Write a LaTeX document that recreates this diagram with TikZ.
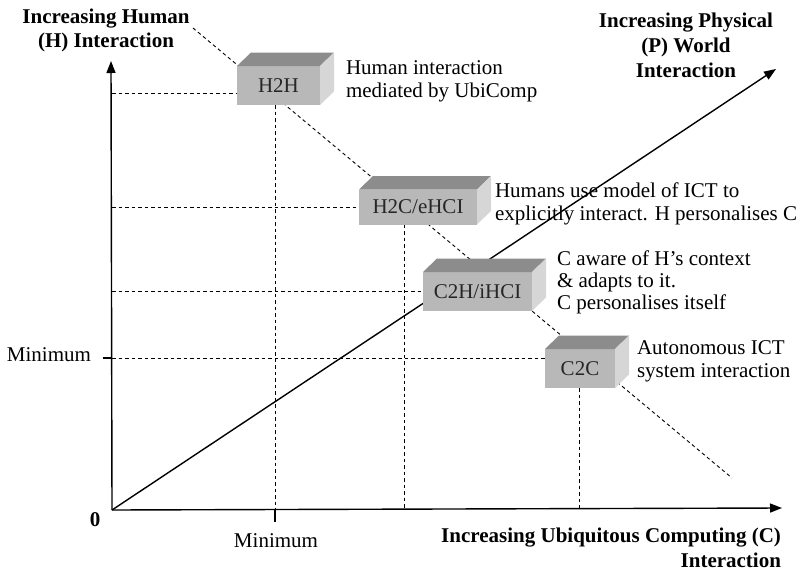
\documentclass[tikz,border=0pt]{standalone}
\usepackage{fontspec}
\setmainfont{Liberation Serif}
\usetikzlibrary{arrows.meta}

\definecolor{frontgrey}{gray}{0.72}
\definecolor{topgrey}{gray}{0.55}
\definecolor{sidegrey}{gray}{0.84}

\begin{document}
\begin{tikzpicture}[x=1pt,y=-1pt,
    every node/.style={font=\fontsize{21}{23}\selectfont, inner sep=0pt, outer sep=0pt},
    axis/.style={line width=1.4pt, -{Triangle[length=12pt,width=9pt]}},
    guide/.style={line width=0.9pt, dash pattern=on 3.5pt off 3pt},
    front/.style={fill=frontgrey, text=black!85, minimum width=#1},
    title/.style={font=\fontsize{21}{25}\selectfont\bfseries, align=center, anchor=base},
    note/.style={anchor=base west, align=left}]
    \useasboundingbox (0,0) rectangle (804,576);

    \coordinate (O) at (112,510);
    \coordinate (H) at (111,61);
    \coordinate (C) at (782,508);
    \coordinate (P) at (776,69);
    \coordinate (Cmin) at (275,509);
    \coordinate (Hmin) at (112,358);
    \coordinate (diagA) at (193,28);
    \coordinate (diagB) at (732,478);
    \coordinate (hhrow) at (112,93);
    \coordinate (hccol) at (404,509);
    \coordinate (cccol) at (579,509);

    % dashed diagonal and P axis run behind the boxes
    \draw[guide] (diagA) -- (diagB);
    \draw[axis] (O) -- (P);

    \node[front=83pt, minimum height=39pt] (hh) at (278.5,85.5) {H2H};
    \node[front=118pt, minimum height=35pt] (hc) at (418,207) {H2C/eHCI};
    \node[front=109pt, minimum height=39pt] (ch) at (477.5,291.5) {C2H/iHCI};
    \node[front=70pt, minimum height=39pt] (cc) at (580,368.5) {C2C};

    \foreach \b in {hh,hc,ch,cc}{
        \fill[topgrey] (\b.north west) -- ++(14,-13.5)
            -- ([shift={(14,-13.5)}]\b.north east) -- (\b.north east) -- cycle;
        \fill[sidegrey] (\b.north east) -- ++(14,-13.5)
            -- ([shift={(14,-13.5)}]\b.south east) -- (\b.south east) -- cycle;
    }

    % guides to the axes
    \draw[guide] (hhrow) -- (hh.west |- hhrow);
    \draw[guide] (O |- hc.west) -- (hc.west);
    \draw[guide] (O |- ch.west) -- (ch.west);
    \draw[guide] (Hmin) -- (cc.west |- Hmin);
    \draw[guide] (Cmin |- hh.south) -- (Cmin);
    \draw[guide] (hccol |- hc.south) -- (hccol);
    \draw[guide] (cccol |- cc.south) -- (cccol);

    \draw[axis] (O) -- (H);
    \draw[axis] (O) -- (C);
    \draw[line width=1.2pt] (Cmin) -- ++(0,13);
    \draw[line width=1.2pt] (Hmin) -- ++(-9,0);

    % multi-line texts sit on the baseline of their last line
    \node[note] (hhtxt) at (346,97) {Human interaction\\mediated by UbiComp};
    \node[note] (hctxt) at (495,220) {Humans use model of ICT to\\explicitly interact. H personalises C};
    \node[note, font=\fontsize{21}{22}\selectfont] (chtxt) at (557,309) {C aware of H’s context\\\& adapts to it.\\C personalises itself};
    \node[note] (cctxt) at (637,377) {Autonomous ICT\\system interaction};

    \node[title, font=\fontsize{21}{24}\selectfont\bfseries] (Hlab) at (106,47) {Increasing Human\\(H) Interaction};
    \node[title] (Plab) at (686,77) {Increasing Physical\\(P) World\\Interaction};
    \node[title, align=right, anchor=base east] (Clab) at (781,567) {Increasing Ubiquitous Computing (C)\\Interaction};

    \node[font=\fontsize{21}{23}\selectfont\bfseries] (zero) at (95,519.5) {0};
    \node[anchor=base] (Cminlab) at (276,547) {Minimum};
    \node[anchor=base east] (Hminlab) at (91,361) {Minimum};
\end{tikzpicture}
\end{document}
